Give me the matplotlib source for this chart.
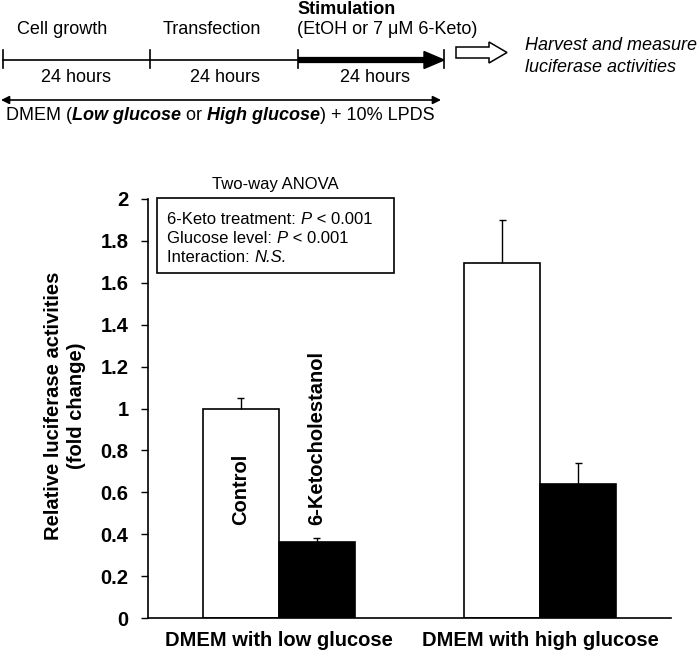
import numpy as np
import matplotlib
matplotlib.use('Agg')
import matplotlib.pyplot as plt
from matplotlib.patches import Rectangle, Polygon

plt.rcParams['font.family'] = ['Liberation Sans', 'DejaVu Sans']

# data
groups = ['DMEM with low glucose', 'DMEM with high glucose']
treatments = ['Control', '6-Ketocholestanol']
means = {'Control': [1.0, 1.695], '6-Ketocholestanol': [0.363, 0.64]}
errs = {'Control': [0.048, 0.205], '6-Ketocholestanol': [0.02, 0.10]}
yticks = [0, 0.2, 0.4, 0.6, 0.8, 1.0, 1.2, 1.4, 1.6, 1.8, 2.0]
anova_lines = [
  [('6-Keto treatment: ', {}), ('P', {'style': 'italic'}), (' < 0.001', {})],
  [('Glucose level: ', {}), ('P', {'style': 'italic'}), (' < 0.001', {})],
  [('Interaction: ', {}), ('N.S.', {'style': 'italic'})],
]
steps = ['Cell growth', 'Transfection']
durations = ['24 hours', '24 hours', '24 hours']

W, H = 697, 654
fig = plt.figure(figsize=(W/100, H/100), dpi=100)

# main bar chart
ax = fig.add_axes([148/W, (H-618)/H, 523/W, 419/H])
x = np.arange(len(groups))
bw = 0.29
cap = 0.014
colors = {'Control': 'white', '6-Ketocholestanol': 'black'}
for i, t in enumerate(treatments):
  xp = x + (i - 0.5) * bw
  m = np.array(means[t])
  e = np.array(errs[t])
  ax.bar(xp, m, bw, color=colors[t], edgecolor='black', linewidth=1.2, zorder=2)
  # upper error bars only
  ax.vlines(xp, m, m + e, color='black', lw=1, zorder=3)
  ax.hlines(m + e, xp - cap, xp + cap, color='black', lw=1, zorder=3)
  ax.text(x[0] + (i - 0.5) * bw, 0.445, t, rotation=90, ha='center', va='bottom',
          fontsize=14.5, fontweight='bold')

ax.set_xlim(-0.5, 1.5)
ax.set_ylim(0, 2)
ax.set_yticks(yticks)
ax.set_yticklabels(['%g' % v for v in yticks], fontsize=14.5, fontweight='bold')
ax.set_xticks(x)
ax.set_xticklabels(groups, fontsize=14.5, fontweight='bold')
ax.tick_params(axis='x', length=0, pad=9)
ax.tick_params(axis='y', direction='out', length=5, width=1, pad=9)
for s in ['top', 'right']:
  ax.spines[s].set_visible(False)
for s in ['left', 'bottom']:
  ax.spines[s].set_linewidth(1.2)

# overlay in pixel coordinates for the scheme and annotations
ov = fig.add_axes([0, 0, 1, 1])
ov.set_xlim(0, W)
ov.set_ylim(H, 0)
ov.axis('off')

renderer = fig.canvas.get_renderer()

def draw_runs(x0, y0, runs, size):
  """draw text pieces one after another with their own styles"""
  xc = x0
  for s, kw in runs:
    t = ov.text(xc, y0, s, ha='left', va='center', fontsize=size, **kw)
    xc += t.get_window_extent(renderer).width
  return xc

ov.text(65, 406, 'Relative luciferase activities\n(fold change)', rotation=90,
        ha='center', va='center', fontsize=14.5, fontweight='bold',
        multialignment='center', linespacing=1.2)

# ANOVA box
ov.text(275.5, 185, 'Two-way ANOVA', ha='center', va='center', fontsize=12)
ov.add_patch(Rectangle((157, 198), 237, 75, fill=False, edgecolor='black', linewidth=1.2))
for k, runs in enumerate(anova_lines):
  draw_runs(167, 220 + k * 18.5, runs, 12)

# timeline
ty = 60
ov.plot([3, 298], [ty, ty], color='black', lw=1.2)
ov.plot([298, 428], [ty, ty], color='black', lw=4.5, solid_capstyle='butt')
ov.add_patch(Polygon([[424, 51.5], [444, ty], [424, 68.5]], closed=True, color='black'))
for tx in [3, 150, 298, 444]:
  ov.plot([tx, tx], [50, 68], color='black', lw=1.2)
ov.text(17, 30, steps[0], ha='left', va='center', fontsize=13)
ov.text(163, 30, steps[1], ha='left', va='center', fontsize=13)
ov.text(297, 9, 'Stimulation', ha='left', va='center', fontsize=13, fontweight='bold')
ov.text(297, 30, '(EtOH or 7 \u03bcM 6-Keto)', ha='left', va='center', fontsize=13)
for cx, d in zip([76, 225, 375], durations):
  ov.text(cx, 78, d, ha='center', va='center', fontsize=13)

ov.annotate('', xy=(1, 100), xytext=(441, 100),
            arrowprops=dict(arrowstyle='<|-|>', color='black', lw=1.2,
                            mutation_scale=12, shrinkA=0, shrinkB=0))
draw_runs(6, 116, [('DMEM (', {}), ('Low glucose', {'fontweight': 'bold', 'style': 'italic'}),
                   (' or ', {}), ('High glucose', {'fontweight': 'bold', 'style': 'italic'}),
                   (') + 10% LPDS', {})], 13)

ov.add_patch(Polygon([[456, 47], [489, 47], [489, 42], [507, 52.5], [489, 63],
                      [489, 58], [456, 58]], closed=True, facecolor='white',
                     edgecolor='black', linewidth=1.1))
ov.text(525, 45, 'Harvest and measure', ha='left', va='center', fontsize=13, style='italic')
ov.text(525, 68, 'luciferase activities', ha='left', va='center', fontsize=13, style='italic')

fig.savefig('out.png', dpi=100)
